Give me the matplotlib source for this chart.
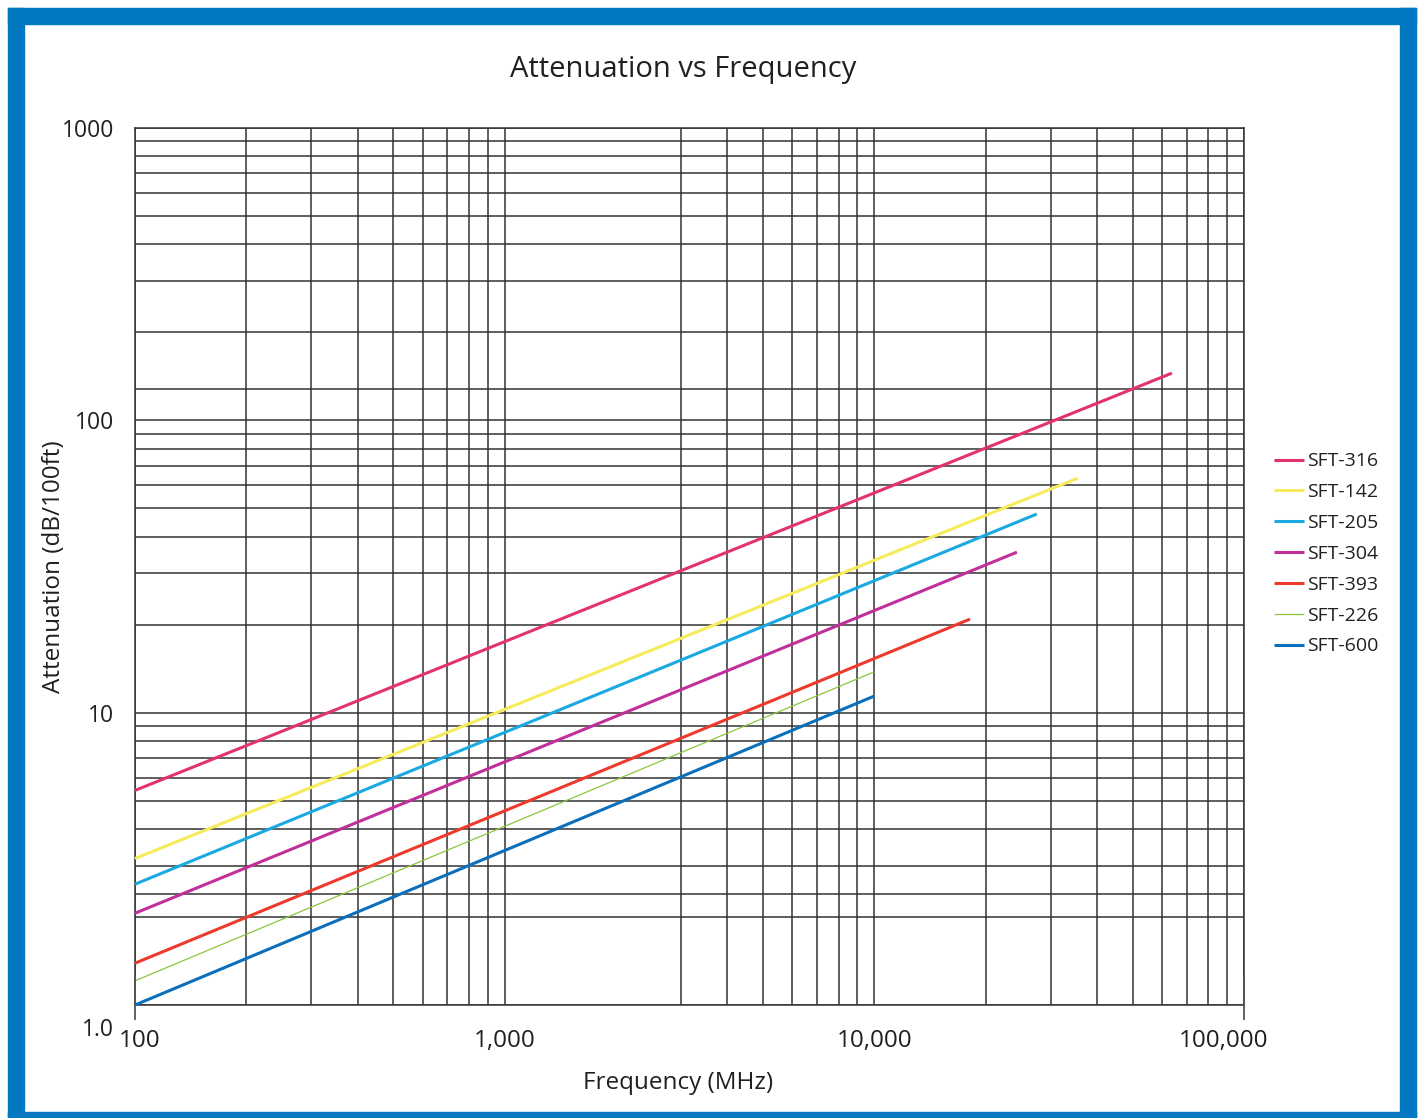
import matplotlib
matplotlib.use("Agg")
from matplotlib import pyplot as plt
from matplotlib.patches import Rectangle
from matplotlib.ticker import FixedLocator, NullFormatter
import matplotlib.transforms as mtransforms

plt.rcParams['font.family'] = ['Open Sans', 'DejaVu Sans']

# cable series: start / end frequency (MHz) and attenuation (dB/100ft)
cables = ["SFT-316", "SFT-142", "SFT-205", "SFT-304", "SFT-393", "SFT-226", "SFT-600"]
freq_start = [100, 100, 100, 100, 100, 100, 100]
freq_end = [63800, 35500, 27500, 24300, 18150, 10000, 10000]
att_start = [5.42, 3.17, 2.59, 2.06, 1.39, 1.21, 1.0]
att_end = [145, 63.4, 47.8, 35.4, 20.9, 13.8, 11.4]
colors = ["#e2336f", "#f6eb5a", "#1ba9e1", "#c1309a", "#ee3a2c", "#8cc63f", "#0b6fbc"]
widths = [2.2, 2.2, 2.2, 2.2, 2.2, 0.9, 2.2]

x_ticks = [100, 1000, 10000, 100000]
x_labels = ["100", "1,000", "10,000", "100,000"]
y_ticks = [1, 10, 100, 1000]
y_labels = ["1.0", "10", "100", "1000"]

# grid lines as they appear on the sheet (2,000 line is absent)
x_grid = ([100 * k for k in range(1, 11)] + [1000 * k for k in range(3, 11)]
          + [10000 * k for k in range(2, 11)])
y_grid = ([k for k in range(1, 11)] + [10 * k for k in range(2, 11)]
          + [100 * k for k in range(2, 11)] + [2.4, 128])


def drawFrame(fig):
    blue = "#0079c2"
    W, H = 1418, 1118
    t = 16
    for (x, y, w, h) in [(8, H - 8 - t, 1408, t), (8, 0, t, H - 8),
                         (1400, 0, t, H - 8), (8, 0, 1408, 6)]:
        fig.patches.append(Rectangle((x / W, y / H), w / W, h / H,
                                     transform=fig.transFigure, color=blue, zorder=0))


def main():
    fig = plt.figure(figsize=(14.18, 11.18), dpi=100)
    drawFrame(fig)
    ax = fig.add_axes([135 / 1418, 113 / 1118, 1109 / 1418, 877 / 1118])
    ax.set_xscale("log")
    ax.set_yscale("log")
    ax.set_xlim(100, 100000)
    ax.set_ylim(1, 1000)

    for v in x_grid:
        ax.axvline(v, color="#333333", lw=1.1, zorder=1)
    for v in y_grid:
        ax.axhline(v, color="#333333", lw=1.1, zorder=1)

    for i in range(len(cables)):
        ax.plot([freq_start[i], freq_end[i]], [att_start[i], att_end[i]],
                color=colors[i], lw=widths[i], label=cables[i],
                solid_capstyle="butt", zorder=3, clip_on=False)

    ax.xaxis.set_major_locator(FixedLocator(x_ticks))
    ax.set_xticklabels(x_labels)
    ax.xaxis.set_minor_formatter(NullFormatter())
    ax.yaxis.set_major_locator(FixedLocator(y_ticks))
    ax.set_yticklabels(y_labels)
    ax.yaxis.set_minor_formatter(NullFormatter())
    ax.tick_params(which="both", length=0, colors="#231f20")
    ax.tick_params(axis="x", pad=17, labelsize=17.5)
    ax.tick_params(axis="y", pad=15, labelsize=16.5)

    # the 1.0 label sits below the axis on the original
    off = mtransforms.ScaledTranslation(0, -0.22, fig.dpi_scale_trans)
    for lab in ax.get_yticklabels():
        if lab.get_text() == "1.0":
            lab.set_transform(lab.get_transform() + off)
    for lab in ax.get_xticklabels():
        if lab.get_text() == "100,000":
            lab.set_transform(lab.get_transform() +
                              mtransforms.ScaledTranslation(-0.2, 0, fig.dpi_scale_trans))
        if lab.get_text() == "100":
            lab.set_transform(lab.get_transform() +
                              mtransforms.ScaledTranslation(0.05, 0, fig.dpi_scale_trans))

    for s in ax.spines.values():
        s.set_color("#333333")
        s.set_linewidth(1.1)

    # small end ticks at the x-axis ends
    for xa in [0, 1]:
        ax.plot([xa, xa], [-0.016, 0.032], transform=ax.transAxes, color="#555555",
                lw=1.3, clip_on=False, zorder=4)

    ax.set_title("Attenuation vs Frequency", fontsize=21, color="#231f20", pad=36.5, x=0.494)
    ax.set_xlabel("Frequency (MHz)", fontsize=17.5, color="#231f20", labelpad=12)
    ax.xaxis.set_label_coords(0.49, -0.075)
    ax.set_ylabel("Attenuation (dB/100ft)", fontsize=17.5, color="#231f20")
    ax.yaxis.set_label_coords(-0.062, 0.5)

    ax.legend(loc="upper left", bbox_to_anchor=(1.02, 0.639), frameon=False,
              handlelength=1.55, handletextpad=0.15, labelspacing=0.66,
              fontsize=14, borderaxespad=0, labelcolor="#231f20")

    fig.savefig("out.png", dpi=100)


main()
